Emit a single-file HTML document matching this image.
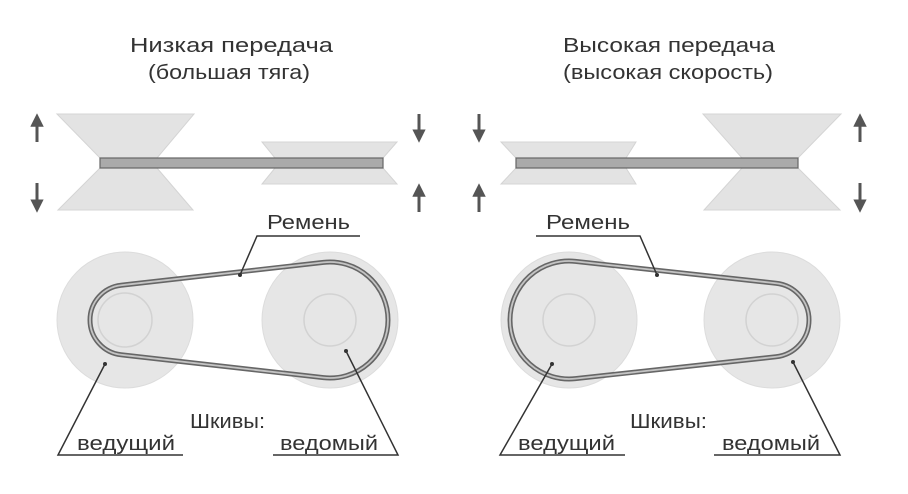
<!DOCTYPE html>
<html><head><meta charset="utf-8"><style>
html,body{margin:0;padding:0;background:#fff;}
svg{display:block;}
text{font-family:"Liberation Sans",sans-serif;fill:#333;}
</style></head><body>
<svg id="s" width="908" height="494" viewBox="0 0 908 494" xmlns="http://www.w3.org/2000/svg">
<defs>
<marker id="ah" viewBox="0 0 10 10" refX="5" refY="5" markerWidth="4.5" markerHeight="4.5" orient="auto"><path d="M0,0 L10,5 L0,10 z" fill="#555"/></marker>
</defs>
<text x="130" y="52" font-size="20" textLength="203" lengthAdjust="spacingAndGlyphs">Низкая передача</text>
<text x="148" y="79" font-size="20" textLength="162" lengthAdjust="spacingAndGlyphs">(большая тяга)</text>
<text x="563" y="52" font-size="20" textLength="212" lengthAdjust="spacingAndGlyphs">Высокая передача</text>
<text x="563" y="79" font-size="20" textLength="210" lengthAdjust="spacingAndGlyphs">(высокая скорость)</text>

<g fill="#e3e3e3" stroke="#d4d4d4" stroke-width="1">
<polygon points="57,114 194,114 157,158 100,158"/>
<polygon points="100,168 157,168 193,210 58,210"/>
<polygon points="262,142 397,142 383,158 275,158"/>
<polygon points="275,168 383,168 397,184 262,184"/>
<polygon points="501,142 636,142 626,158 516,158"/>
<polygon points="516,168 626,168 636,184 501,184"/>
<polygon points="703,114 841,114 798,158 742,158"/>
<polygon points="742,168 798,168 840,210 704,210"/>
</g>
<rect x="100" y="158" width="283" height="10" fill="#aaa" stroke="#666" stroke-width="1.2"/>
<rect x="516" y="158" width="282" height="10" fill="#aaa" stroke="#666" stroke-width="1.2"/>

<g stroke="#555" stroke-width="3" marker-end="url(#ah)">
<line x1="37" y1="142" x2="37" y2="120"/>
<line x1="37" y1="183" x2="37" y2="206"/>
<line x1="419" y1="114" x2="419" y2="136"/>
<line x1="419" y1="212" x2="419" y2="190"/>
<line x1="479" y1="114" x2="479" y2="136"/>
<line x1="479" y1="212" x2="479" y2="190"/>
<line x1="860" y1="142" x2="860" y2="120"/>
<line x1="860" y1="183" x2="860" y2="206"/>
</g>

<g fill="#e6e6e6" stroke="#dcdcdc">
<circle cx="125" cy="320" r="68"/>
<circle cx="330" cy="320" r="68"/>
<circle cx="569" cy="320" r="68"/>
<circle cx="772" cy="320" r="68"/>
</g>
<g fill="none" stroke="#d2d2d2" stroke-width="1.5">
<circle cx="125" cy="320" r="27"/>
<circle cx="330" cy="320" r="26"/>
<circle cx="569" cy="320" r="26"/>
<circle cx="772" cy="320" r="26"/>
</g>
<path id="b1o" fill="none" stroke="#666" stroke-width="5"/>
<path id="b1i" fill="none" stroke="#c4c4c4" stroke-width="1.8"/>
<path id="b2o" fill="none" stroke="#666" stroke-width="5"/>
<path id="b2i" fill="none" stroke="#c4c4c4" stroke-width="1.8"/>

<g stroke="#333" stroke-width="1.5" fill="none">
<polyline points="360,236 257,236 240,275"/>
<polyline points="183,455 58,455 105,364"/>
<polyline points="273,455 398,455 346,351"/>
<polyline points="536,236 640,236 657,275"/>
<polyline points="625,455 500,455 552,364"/>
<polyline points="714,455 840,455 793,362"/>
</g>
<g fill="#333">
<circle cx="240" cy="275" r="2"/><circle cx="105" cy="364" r="2"/><circle cx="346" cy="351" r="2"/>
<circle cx="657" cy="275" r="2"/><circle cx="552" cy="364" r="2"/><circle cx="793" cy="362" r="2"/>
</g>
<text x="267" y="229" font-size="20" textLength="83" lengthAdjust="spacingAndGlyphs">Ремень</text>
<text x="546" y="229" font-size="20" textLength="84" lengthAdjust="spacingAndGlyphs">Ремень</text>
<text x="190" y="428" font-size="20" textLength="75" lengthAdjust="spacingAndGlyphs">Шкивы:</text>
<text x="630" y="428" font-size="20" textLength="77" lengthAdjust="spacingAndGlyphs">Шкивы:</text>
<text x="77" y="450" font-size="20" textLength="98" lengthAdjust="spacingAndGlyphs">ведущий</text>
<text x="280" y="450" font-size="20" textLength="98" lengthAdjust="spacingAndGlyphs">ведомый</text>
<text x="518" y="450" font-size="20" textLength="97" lengthAdjust="spacingAndGlyphs">ведущий</text>
<text x="722" y="450" font-size="20" textLength="98" lengthAdjust="spacingAndGlyphs">ведомый</text>
</svg>
<script>
function belt(x1,y,r1,x2,r2){
 var d=x2-x1,s=(r1-r2)/d,c=Math.sqrt(1-s*s);
 var t1=[x1+r1*s,y-r1*c],t2=[x2+r2*s,y-r2*c],b2=[x2+r2*s,y+r2*c],b1=[x1+r1*s,y+r1*c];
 var l2=r2>r1?1:0,l1=r1>r2?1:0;
 return "M"+t1+" L"+t2+" A"+r2+" "+r2+" 0 "+l2+" 1 "+b2+" L"+b1+" A"+r1+" "+r1+" 0 "+l1+" 1 "+t1+"Z";
}
var p1=belt(125,320,35,330,58),p2=belt(569,320,59,772,37);
["b1o","b1i"].forEach(function(i){document.getElementById(i).setAttribute("d",p1);});
["b2o","b2i"].forEach(function(i){document.getElementById(i).setAttribute("d",p2);});
</script>
</body></html>
